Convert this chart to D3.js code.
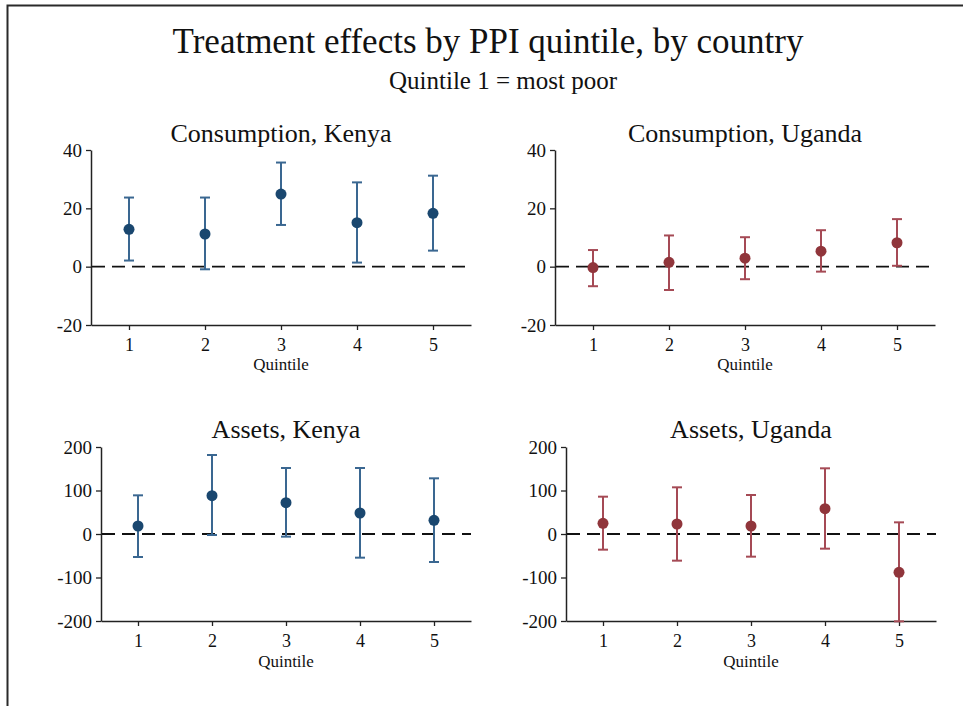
<!DOCTYPE html>
<html>
<head>
<meta charset="utf-8">
<script src="https://cdn.jsdelivr.net/npm/d3@7"></script>
<style>
  html, body { margin: 0; padding: 0; background: #fff; }
  svg { display: block; }
  text { font-family: "Liberation Serif", "Times New Roman", serif; fill: #111; }
</style>
</head>
<body>
<svg id="chart" width="963" height="706"></svg>
<script>
// Quintile categories and tick labels
const quintiles = [1, 2, 3, 4, 5];
const consTicks = [-20, 0, 20, 40];
const assetTicks = [-200, -100, 0, 100, 200];

// Consumption, Kenya: point estimates and 95% CI bounds
const consKenyaEst = [12.8, 11.2, 24.9, 15.1, 18.3];
const consKenyaLo  = [2.1, -0.9, 14.3, 1.4, 5.5];
const consKenyaHi  = [23.7, 23.7, 35.7, 28.9, 31.2];

// Consumption, Uganda
const consUgandaEst = [-0.3, 1.5, 2.9, 5.3, 8.2];
const consUgandaLo  = [-6.7, -8.0, -4.3, -1.7, 0.3];
const consUgandaHi  = [5.7, 10.7, 10.1, 12.5, 16.3];

// Assets, Kenya
const assetsKenyaEst = [18.4, 88.1, 72.0, 48.3, 31.4];
const assetsKenyaLo  = [-52.9, -2.3, -6.1, -54.4, -64.4];
const assetsKenyaHi  = [88.9, 181.6, 151.7, 151.7, 128.0];

// Assets, Uganda
const assetsUgandaEst = [24.5, 23.0, 18.4, 58.2, -88.1];
const assetsUgandaLo  = [-36.0, -61.3, -52.1, -33.7, -200.8];
const assetsUgandaHi  = [85.8, 107.3, 89.7, 151.0, 26.8];

const kenyaColors  = { point: "#1a476f", bar: "#3a6791" };
const ugandaColors = { point: "#90353b", bar: "#a54a55" };

const panels = [
  { title: "Consumption, Kenya",  est: consKenyaEst,  lo: consKenyaLo,  hi: consKenyaHi,
    ticks: consTicks, colors: kenyaColors,
    x0: 91, x1: 471, y0: 150, y1: 325, titleY: 142, tickY: 351, labelY: 370 },
  { title: "Consumption, Uganda", est: consUgandaEst, lo: consUgandaLo, hi: consUgandaHi,
    ticks: consTicks, colors: ugandaColors,
    x0: 555, x1: 935, y0: 150, y1: 325, titleY: 142, tickY: 351, labelY: 370 },
  { title: "Assets, Kenya",       est: assetsKenyaEst, lo: assetsKenyaLo, hi: assetsKenyaHi,
    ticks: assetTicks, colors: kenyaColors,
    x0: 101, x1: 471, y0: 447, y1: 621, titleY: 438, tickY: 647, labelY: 667 },
  { title: "Assets, Uganda",      est: assetsUgandaEst, lo: assetsUgandaLo, hi: assetsUgandaHi,
    ticks: assetTicks, colors: ugandaColors,
    x0: 566, x1: 936, y0: 447, y1: 621, titleY: 438, tickY: 647, labelY: 667 }
];

const svg = d3.select("#chart");

// Outer frame
svg.append("rect")
  .attr("x", 7.5).attr("y", 5.5)
  .attr("width", 1000).attr("height", 800)
  .attr("fill", "none").attr("stroke", "#2a2a2a").attr("stroke-width", 2);

// Overall titles
svg.append("text")
  .attr("x", 488).attr("y", 53)
  .attr("text-anchor", "middle")
  .style("font-size", "35px")
  .text("Treatment effects by PPI quintile, by country");

svg.append("text")
  .attr("x", 503).attr("y", 89)
  .attr("text-anchor", "middle")
  .style("font-size", "25px")
  .text("Quintile 1 = most poor");

panels.forEach(p => {
  const g = svg.append("g");
  const x = d3.scaleLinear().domain([0.5, 5.5]).range([p.x0, p.x1]);
  const y = d3.scaleLinear()
    .domain([d3.min(p.ticks), d3.max(p.ticks)])
    .range([p.y1, p.y0]);

  // Panel title
  g.append("text")
    .attr("x", (p.x0 + p.x1) / 2).attr("y", p.titleY)
    .attr("text-anchor", "middle")
    .style("font-size", "26px")
    .text(p.title);

  // Y axis
  const yAxis = g.append("g")
    .attr("transform", `translate(${p.x0},0)`)
    .call(d3.axisLeft(y).tickValues(p.ticks).tickSize(5).tickSizeOuter(0).tickPadding(4)
      .tickFormat(d3.format("d")));
  yAxis.select(".domain").attr("stroke", "#222").attr("stroke-width", 1.5);
  yAxis.selectAll(".tick line").attr("stroke", "#222").attr("stroke-width", 1.3);
  yAxis.selectAll(".tick text")
    .style("font-family", "'Liberation Serif', serif")
    .style("font-size", "19px").attr("fill", "#111")
    .text(d => (d < 0 ? "-" + Math.abs(d) : d));

  // X axis
  const xAxis = g.append("g")
    .attr("transform", `translate(0,${p.y1})`)
    .call(d3.axisBottom(x).tickValues(quintiles).tickSize(5).tickSizeOuter(0)
      .tickFormat(d3.format("d")));
  xAxis.select(".domain").attr("stroke", "#222").attr("stroke-width", 1.5);
  xAxis.selectAll(".tick line").attr("stroke", "#222").attr("stroke-width", 1.3);
  xAxis.selectAll(".tick text")
    .style("font-family", "'Liberation Serif', serif")
    .style("font-size", "18px").attr("fill", "#111")
    .attr("dy", null)
    .attr("y", p.tickY - p.y1);

  // X axis label
  g.append("text")
    .attr("x", (p.x0 + p.x1) / 2).attr("y", p.labelY)
    .attr("text-anchor", "middle")
    .style("font-size", "17px")
    .text("Quintile");

  // Zero reference line
  g.append("line")
    .attr("x1", p.x0 + 1).attr("x2", p.x1)
    .attr("y1", y(0)).attr("y2", y(0))
    .attr("stroke", "#111").attr("stroke-width", 1.8)
    .attr("stroke-dasharray", "13,7");

  const rows = quintiles.map((q, i) => ({ q, est: p.est[i], lo: p.lo[i], hi: p.hi[i] }));

  // Confidence interval bars with caps
  const bars = g.append("g")
    .attr("stroke", p.colors.bar).attr("stroke-width", 2).attr("fill", "none");
  bars.selectAll("line.ci").data(rows).join("line")
    .attr("class", "ci")
    .attr("x1", d => x(d.q)).attr("x2", d => x(d.q))
    .attr("y1", d => y(d.lo)).attr("y2", d => y(d.hi));
  bars.selectAll("line.capHi").data(rows).join("line")
    .attr("class", "capHi")
    .attr("x1", d => x(d.q) - 5).attr("x2", d => x(d.q) + 5)
    .attr("y1", d => y(d.hi)).attr("y2", d => y(d.hi));
  bars.selectAll("line.capLo").data(rows).join("line")
    .attr("class", "capLo")
    .attr("x1", d => x(d.q) - 5).attr("x2", d => x(d.q) + 5)
    .attr("y1", d => y(d.lo)).attr("y2", d => y(d.lo));

  // Point estimates
  g.append("g").selectAll("circle").data(rows).join("circle")
    .attr("cx", d => x(d.q)).attr("cy", d => y(d.est))
    .attr("r", 5.5)
    .attr("fill", p.colors.point);
});
</script>
</body>
</html>
